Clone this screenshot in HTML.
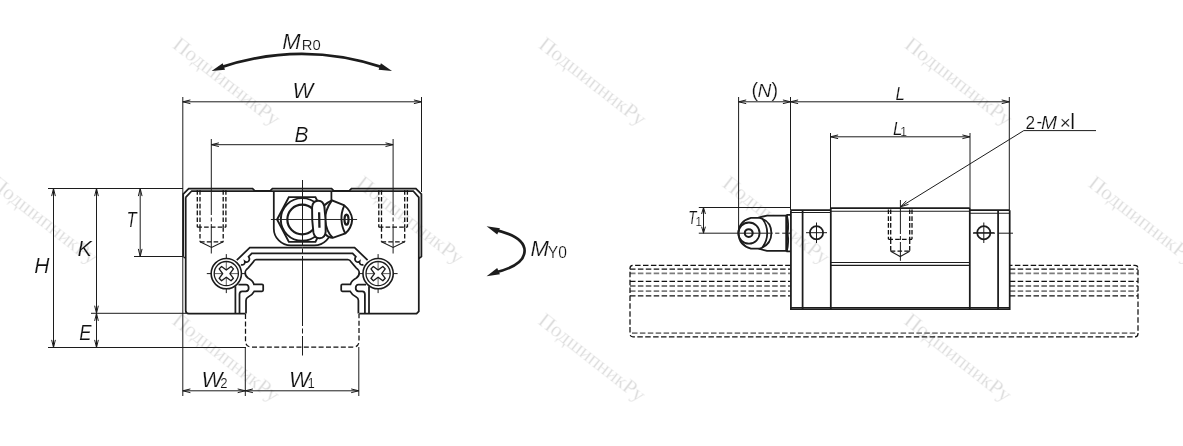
<!DOCTYPE html>
<html lang="ru">
<head>
<meta charset="utf-8">
<title>Linear guide block dimensions</title>
<style>
html,body{margin:0;padding:0;background:#fff;}
body{width:1183px;height:446px;overflow:hidden;}
svg{display:block;filter:grayscale(1);}
.wm text{font-family:"Liberation Serif","DejaVu Serif",serif;font-size:21px;fill:#dadada;stroke:#fff;stroke-width:0.3px;}
.lbl text{font-family:"Liberation Sans","DejaVu Sans",sans-serif;stroke:#fff;stroke-width:0.2px;}
</style>
</head>
<body>
<svg width="1183" height="446" viewBox="0 0 1183 446">
<rect x="0" y="0" width="1183" height="446" fill="#fff"/>
<g class="wm">
<text transform="translate(180.2,36.0) rotate(38)" x="0" y="14">ПодшипникРу</text>
<text transform="translate(546.2,36.0) rotate(38)" x="0" y="14">ПодшипникРу</text>
<text transform="translate(912.2,36.0) rotate(38)" x="0" y="14">ПодшипникРу</text>
<text transform="translate(-2.2,174.7) rotate(38)" x="0" y="14">ПодшипникРу</text>
<text transform="translate(363.8,174.7) rotate(38)" x="0" y="14">ПодшипникРу</text>
<text transform="translate(729.8,174.7) rotate(38)" x="0" y="14">ПодшипникРу</text>
<text transform="translate(1095.8,174.7) rotate(38)" x="0" y="14">ПодшипникРу</text>
<text transform="translate(179.6,312.0) rotate(38)" x="0" y="14">ПодшипникРу</text>
<text transform="translate(545.6,312.0) rotate(38)" x="0" y="14">ПодшипникРу</text>
<text transform="translate(911.6,312.0) rotate(38)" x="0" y="14">ПодшипникРу</text>
</g>
<g stroke="#1c1c1c" fill="none" stroke-linecap="butt" stroke-linejoin="miter">
<line x1="48.00" y1="188.50" x2="183.00" y2="188.50" stroke-width="1.0" />
<line x1="53.50" y1="188.50" x2="53.50" y2="347.50" stroke-width="1.0" />
<path d="M51.65 196.10L53.50 188.50L55.35 196.10" fill="none" stroke-width="1.0"/>
<path d="M55.35 339.90L53.50 347.50L51.65 339.90" fill="none" stroke-width="1.0"/>
<line x1="96.50" y1="188.50" x2="96.50" y2="313.30" stroke-width="1.0" />
<path d="M94.65 196.10L96.50 188.50L98.35 196.10" fill="none" stroke-width="1.0"/>
<path d="M98.35 305.70L96.50 313.30L94.65 305.70" fill="none" stroke-width="1.0"/>
<line x1="96.50" y1="313.30" x2="96.50" y2="347.50" stroke-width="1.0" />
<path d="M94.65 320.90L96.50 313.30L98.35 320.90" fill="none" stroke-width="1.0"/>
<path d="M98.35 339.90L96.50 347.50L94.65 339.90" fill="none" stroke-width="1.0"/>
<line x1="140.20" y1="188.50" x2="140.20" y2="256.50" stroke-width="1.0" />
<path d="M138.35 196.10L140.20 188.50L142.05 196.10" fill="none" stroke-width="1.0"/>
<path d="M142.05 248.90L140.20 256.50L138.35 248.90" fill="none" stroke-width="1.0"/>
<line x1="134.00" y1="256.50" x2="183.00" y2="256.50" stroke-width="1.0" />
<line x1="91.00" y1="313.30" x2="186.00" y2="313.30" stroke-width="1.0" />
<line x1="48.00" y1="347.50" x2="246.00" y2="347.50" stroke-width="1.0" />
<line x1="182.80" y1="97.00" x2="182.80" y2="396.00" stroke-width="1.0" />
<line x1="421.50" y1="97.00" x2="421.50" y2="192.00" stroke-width="1.0" />
<line x1="182.80" y1="101.80" x2="421.50" y2="101.80" stroke-width="1.0" />
<path d="M190.40 103.65L182.80 101.80L190.40 99.95" fill="none" stroke-width="1.0"/>
<path d="M413.90 99.95L421.50 101.80L413.90 103.65" fill="none" stroke-width="1.0"/>
<line x1="211.30" y1="144.70" x2="393.10" y2="144.70" stroke-width="1.0" />
<path d="M218.90 146.55L211.30 144.70L218.90 142.85" fill="none" stroke-width="1.0"/>
<path d="M385.50 142.85L393.10 144.70L385.50 146.55" fill="none" stroke-width="1.0"/>
<line x1="182.80" y1="390.80" x2="245.30" y2="390.80" stroke-width="1.0" />
<path d="M190.40 392.65L182.80 390.80L190.40 388.95" fill="none" stroke-width="1.0"/>
<path d="M237.70 388.95L245.30 390.80L237.70 392.65" fill="none" stroke-width="1.0"/>
<line x1="245.30" y1="390.80" x2="358.80" y2="390.80" stroke-width="1.0" />
<path d="M252.90 392.65L245.30 390.80L252.90 388.95" fill="none" stroke-width="1.0"/>
<path d="M351.20 388.95L358.80 390.80L351.20 392.65" fill="none" stroke-width="1.0"/>
<line x1="245.30" y1="347.00" x2="245.30" y2="396.00" stroke-width="1.0" />
<line x1="358.80" y1="347.00" x2="358.80" y2="396.00" stroke-width="1.0" />
<line x1="211.30" y1="139.00" x2="211.30" y2="253.50" stroke-width="1.0" stroke-dasharray="76 2.5 4 2.5 40"/>
<line x1="393.10" y1="139.00" x2="393.10" y2="253.50" stroke-width="1.0" stroke-dasharray="76 2.5 4 2.5 40"/>
<line x1="302.50" y1="180.00" x2="302.50" y2="355.50" stroke-width="1.0" stroke-dasharray="66 2.5 5 2.5 70 2.5 5 2.5 30"/>
<path d="M245.5 314V341Q245.5 347 251.5 347H353Q359 347 359 341V314" stroke-width="1.25" fill="none" stroke="#111" stroke-dasharray="5 2.4"/>
<path d="M183.2 256.5V194.2L188.7 188.7H252.6L254.8 190.9H270.2L272.4 188.7H331.6L333.8 190.9H349.2L351.4 188.7H415.9L421.4 194.2V256.5L418.8 258.5" stroke-width="1.75" fill="none"/>
<path d="M185.7 197.3L191.7 191H413.2L418.8 197.3V311.3L416.6 313.6H359.2M185.7 197.3V310.5Q185.7 313.6 188.8 313.6H245.6" stroke-width="1.75" fill="none"/>
<path d="M183.2 256.5L185.7 258.5" stroke-width="1.2" fill="none"/>
<path d="M273.8 191V228.4A17 17 0 0 0 290.8 245.4H314.4A17 17 0 0 0 331.4 228.4V191" stroke-width="1.75" fill="none"/>
<path d="M302.20 247.7H249.80L236.80 260.1M302.20 253.4H251.80L248.60 256.7Q250.40 259.4 248.40 261.4Q246.40 262.8 244.80 261.5Q245.20 263.6 243.60 264.5Q242.20 265.2 241.00 264.4M302.20 259.5H256.60Q254.20 259.7 253.00 262.4L248.30 267.9Q245.20 270.0 245.20 273.0Q245.20 276.0 248.00 278.0Q252.80 280.4 253.90 284.3H262.00Q263.20 284.3 263.20 285.5V290.1Q263.20 291.3 262.00 291.3H254.20Q252.00 295.4 248.20 297.0Q246.00 298.0 246.00 300.6V313.6M235.40 286.2V313.6M238.40 284.5H245.80Q248.70 284.7 248.70 287.9Q248.70 291.1 245.80 291.3H242.20Q239.50 291.5 239.50 294.2V313.6" stroke-width="1.75" fill="none"/>
<path d="M302.20 247.7H354.60L367.60 260.1M302.20 253.4H352.60L355.80 256.7Q354.00 259.4 356.00 261.4Q358.00 262.8 359.60 261.5Q359.20 263.6 360.80 264.5Q362.20 265.2 363.40 264.4M302.20 259.5H347.80Q350.20 259.7 351.40 262.4L356.10 267.9Q359.20 270.0 359.20 273.0Q359.20 276.0 356.40 278.0Q351.60 280.4 350.50 284.3H342.40Q341.20 284.3 341.20 285.5V290.1Q341.20 291.3 342.40 291.3H350.20Q352.40 295.4 356.20 297.0Q358.40 298.0 358.40 300.6V313.6M369.00 286.2V313.6M366.00 284.5H358.60Q355.70 284.7 355.70 287.9Q355.70 291.1 358.60 291.3H362.20Q364.90 291.5 364.90 294.2V313.6" stroke-width="1.75" fill="none"/>
<line x1="206.80" y1="273.60" x2="245.80" y2="273.60" stroke-width="1.0" />
<line x1="226.30" y1="254.10" x2="226.30" y2="293.10" stroke-width="1.0" />
<circle cx="226.3" cy="273.6" r="15.15" stroke-width="1.6" fill="#fff"/>
<circle cx="226.3" cy="273.6" r="12.1" stroke-width="1.3"/>
<line x1="214.30" y1="273.60" x2="238.30" y2="273.60" stroke-width="0.7" />
<line x1="226.30" y1="261.60" x2="226.30" y2="285.60" stroke-width="0.7" />
<path d="M224.60 265.20L228.00 265.20L228.86 271.04L234.70 271.90L234.70 275.30L228.86 276.16L228.00 282.00L224.60 282.00L223.74 276.16L217.90 275.30L217.90 271.90L223.74 271.04Z" transform="rotate(45 226.3 273.6)" stroke-width="1.35" fill="#fff" stroke-linejoin="round"/>
<line x1="358.60" y1="273.60" x2="397.60" y2="273.60" stroke-width="1.0" />
<line x1="378.10" y1="254.10" x2="378.10" y2="293.10" stroke-width="1.0" />
<circle cx="378.09999999999997" cy="273.6" r="15.15" stroke-width="1.6" fill="#fff"/>
<circle cx="378.09999999999997" cy="273.6" r="12.1" stroke-width="1.3"/>
<line x1="366.10" y1="273.60" x2="390.10" y2="273.60" stroke-width="0.7" />
<line x1="378.10" y1="261.60" x2="378.10" y2="285.60" stroke-width="0.7" />
<path d="M376.40 265.20L379.80 265.20L380.66 271.04L386.50 271.90L386.50 275.30L380.66 276.16L379.80 282.00L376.40 282.00L375.54 276.16L369.70 275.30L369.70 271.90L375.54 271.04Z" transform="rotate(45 378.09999999999997 273.6)" stroke-width="1.35" fill="#fff" stroke-linejoin="round"/>
<line x1="197.30" y1="190.20" x2="197.30" y2="227.20" stroke-width="1.3" stroke-dasharray="4.6 2.2" stroke="#111"/>
<line x1="225.90" y1="190.20" x2="225.90" y2="227.20" stroke-width="1.3" stroke-dasharray="4.6 2.2" stroke="#111"/>
<line x1="200.00" y1="190.20" x2="200.00" y2="227.20" stroke-width="1.3" stroke-dasharray="4.6 2.2" stroke="#111"/>
<line x1="223.20" y1="190.20" x2="223.20" y2="227.20" stroke-width="1.3" stroke-dasharray="4.6 2.2" stroke="#111"/>
<line x1="197.30" y1="227.20" x2="225.90" y2="227.20" stroke-width="1.3" stroke-dasharray="4.6 2.2" stroke="#111"/>
<line x1="200.00" y1="227.20" x2="200.00" y2="241.80" stroke-width="1.3" stroke-dasharray="4.6 2.2" stroke="#111"/>
<line x1="223.20" y1="227.20" x2="223.20" y2="241.80" stroke-width="1.3" stroke-dasharray="4.6 2.2" stroke="#111"/>
<line x1="200.00" y1="241.80" x2="223.20" y2="241.80" stroke-width="1.3" stroke-dasharray="4.6 2.2" stroke="#111"/>
<path d="M200.00 241.8L211.6 247.4L223.20 241.8" stroke-width="1.1" fill="none"/>
<line x1="378.80" y1="190.20" x2="378.80" y2="227.20" stroke-width="1.3" stroke-dasharray="4.6 2.2" stroke="#111"/>
<line x1="407.40" y1="190.20" x2="407.40" y2="227.20" stroke-width="1.3" stroke-dasharray="4.6 2.2" stroke="#111"/>
<line x1="381.50" y1="190.20" x2="381.50" y2="227.20" stroke-width="1.3" stroke-dasharray="4.6 2.2" stroke="#111"/>
<line x1="404.70" y1="190.20" x2="404.70" y2="227.20" stroke-width="1.3" stroke-dasharray="4.6 2.2" stroke="#111"/>
<line x1="378.80" y1="227.20" x2="407.40" y2="227.20" stroke-width="1.3" stroke-dasharray="4.6 2.2" stroke="#111"/>
<line x1="381.50" y1="227.20" x2="381.50" y2="241.80" stroke-width="1.3" stroke-dasharray="4.6 2.2" stroke="#111"/>
<line x1="404.70" y1="227.20" x2="404.70" y2="241.80" stroke-width="1.3" stroke-dasharray="4.6 2.2" stroke="#111"/>
<line x1="381.50" y1="241.80" x2="404.70" y2="241.80" stroke-width="1.3" stroke-dasharray="4.6 2.2" stroke="#111"/>
<path d="M381.50 241.8L393.09999999999997 247.4L404.70 241.8" stroke-width="1.1" fill="none"/>
<g transform="translate(265,180) scale(0.16807)">
<path d="M72 235L142 102H300L368 235L300 368H142Z" stroke-width="11.5" fill="none"/>
<circle cx="221" cy="235" r="127" stroke-width="11.5"/>
<circle cx="221" cy="235" r="88" stroke-width="13.0"/>
<path d="M352 152Q372 132 398 121L472 151Q514 186 519 234Q516 284 478 318L403 344Q378 344 358 322Q352 240 352 152Z" stroke-width="11.5" fill="#fff"/>
<path d="M398 121Q356 180 358 238Q364 306 403 344" stroke-width="11.5"/>
<path d="M472 151Q452 195 455 238Q458 284 478 318" stroke-width="11.5"/>
<ellipse cx="485" cy="236" rx="12" ry="30" stroke-width="13.0"/>
<path transform="rotate(-3 320 235)" d="M320.5 123Q352 123 357 160Q363 235 357 310Q352 347 320.5 347Q289 347 284 310Q278 235 284 160Q289 123 320.5 123Z" stroke-width="11.5" fill="#fff"/>
<line x1="322" y1="192" x2="324" y2="284" stroke-width="13.5"/>
<line x1="35" y1="235" x2="548" y2="235" stroke-width="5.6"/>
</g>
<path d="M219 67.9Q301.8 39.8 384.6 67.9" stroke-width="2.7" fill="none"/>
<path d="M211.60 70.90L225.02 69.86L222.69 63.26Z" fill="#1c1c1c" stroke="none"/>
<path d="M392.00 70.90L380.91 63.26L378.58 69.86Z" fill="#1c1c1c" stroke="none"/>
<path d="M494 229.6Q524.6 236.4 524.6 250.8Q524.6 265.6 494 272.8" stroke-width="2.7" fill="none"/>
<path d="M486.60 226.30L497.20 234.60L499.93 228.16Z" fill="#1c1c1c" stroke="none"/>
<path d="M486.60 276.20L499.93 274.34L497.20 267.90Z" fill="#1c1c1c" stroke="none"/>
<line x1="630.00" y1="269.20" x2="790.70" y2="269.20" stroke-width="1.25" stroke-dasharray="5.5 2.4" stroke="#111"/>
<line x1="1009.80" y1="269.20" x2="1138.00" y2="269.20" stroke-width="1.25" stroke-dasharray="5.5 2.4" stroke="#111"/>
<line x1="630.00" y1="273.30" x2="790.70" y2="273.30" stroke-width="1.8" stroke-dasharray="5.5 2.4" stroke="#7c7c7c"/>
<line x1="1009.80" y1="273.30" x2="1138.00" y2="273.30" stroke-width="1.8" stroke-dasharray="5.5 2.4" stroke="#7c7c7c"/>
<line x1="630.00" y1="281.30" x2="790.70" y2="281.30" stroke-width="1.25" stroke-dasharray="5.5 2.4" stroke="#111"/>
<line x1="1009.80" y1="281.30" x2="1138.00" y2="281.30" stroke-width="1.25" stroke-dasharray="5.5 2.4" stroke="#111"/>
<line x1="630.00" y1="286.00" x2="790.70" y2="286.00" stroke-width="1.8" stroke-dasharray="5.5 2.4" stroke="#7c7c7c"/>
<line x1="1009.80" y1="286.00" x2="1138.00" y2="286.00" stroke-width="1.8" stroke-dasharray="5.5 2.4" stroke="#7c7c7c"/>
<line x1="630.00" y1="291.20" x2="790.70" y2="291.20" stroke-width="1.8" stroke-dasharray="5.5 2.4" stroke="#7c7c7c"/>
<line x1="1009.80" y1="291.20" x2="1138.00" y2="291.20" stroke-width="1.8" stroke-dasharray="5.5 2.4" stroke="#7c7c7c"/>
<line x1="630.00" y1="295.90" x2="790.70" y2="295.90" stroke-width="1.25" stroke-dasharray="5.5 2.4" stroke="#111"/>
<line x1="1009.80" y1="295.90" x2="1138.00" y2="295.90" stroke-width="1.25" stroke-dasharray="5.5 2.4" stroke="#111"/>
<path d="M790.7 265.3H633Q630 265.3 630 268.3V333.8Q630 336.8 633 336.8H1135Q1138 336.8 1138 333.8V268.3Q1138 265.3 1135 265.3H1009.8" stroke-width="1.25" fill="none" stroke="#111" stroke-dasharray="5.5 2.4"/>
<line x1="632.00" y1="333.10" x2="1136.00" y2="333.10" stroke-width="1.8" stroke-dasharray="5.5 2.4" stroke="#7c7c7c"/>
<line x1="738.60" y1="97.00" x2="738.60" y2="233.00" stroke-width="1.0" />
<line x1="790.50" y1="97.00" x2="790.50" y2="210.00" stroke-width="1.0" />
<line x1="1009.30" y1="97.00" x2="1009.30" y2="210.00" stroke-width="1.0" />
<line x1="738.60" y1="101.80" x2="790.50" y2="101.80" stroke-width="1.0" />
<path d="M746.20 103.65L738.60 101.80L746.20 99.95" fill="none" stroke-width="1.0"/>
<path d="M782.90 99.95L790.50 101.80L782.90 103.65" fill="none" stroke-width="1.0"/>
<line x1="790.50" y1="101.80" x2="1009.30" y2="101.80" stroke-width="1.0" />
<path d="M798.10 103.65L790.50 101.80L798.10 99.95" fill="none" stroke-width="1.0"/>
<path d="M1001.70 99.95L1009.30 101.80L1001.70 103.65" fill="none" stroke-width="1.0"/>
<line x1="830.50" y1="133.00" x2="830.50" y2="208.00" stroke-width="1.0" />
<line x1="970.00" y1="133.00" x2="970.00" y2="208.00" stroke-width="1.0" />
<line x1="830.50" y1="136.80" x2="970.00" y2="136.80" stroke-width="1.0" />
<path d="M838.10 138.65L830.50 136.80L838.10 134.95" fill="none" stroke-width="1.0"/>
<path d="M962.40 134.95L970.00 136.80L962.40 138.65" fill="none" stroke-width="1.0"/>
<path d="M1096 130.6H1023.8L900.6 206.8" stroke-width="1.0" fill="none"/>
<path d="M908.51 204.37L900.60 206.80L906.29 200.80" fill="none" stroke-width="1.0"/>
<line x1="698.80" y1="207.50" x2="790.00" y2="207.50" stroke-width="1.0" />
<line x1="703.50" y1="207.50" x2="703.50" y2="233.20" stroke-width="1.0" />
<path d="M701.60 214.00L703.50 207.50L705.40 214.00" fill="none" stroke-width="1.0"/>
<path d="M705.40 226.70L703.50 233.20L701.60 226.70" fill="none" stroke-width="1.0"/>
<line x1="973.00" y1="233.20" x2="1013.00" y2="233.20" stroke-width="1.0" stroke-dasharray="22 3 30"/>
<path d="M790.9 210.2V309.2H1009.7V210.2M790.9 210.2H830.8M969.8 210.2H1009.7M830.8 208.1H969.8" stroke-width="1.75" fill="none"/>
<path d="M790.9 212.5H830.8M969.8 213.3H1009.7M830.8 211.2H969.8" stroke-width="1.1" fill="none"/>
<path d="M790.9 307.6H1009.7" stroke-width="1.2" fill="none"/>
<path d="M802.6 210.2V309.2M830.8 208.1V309.2M969.8 208.1V309.2M998.1 210.2V309.2" stroke-width="1.75" fill="none"/>
<path d="M830.8 262.5H969.8M830.8 265.4H969.8" stroke-width="1.2" fill="none"/>
<circle cx="816.5" cy="232.7" r="6.6" stroke-width="1.75"/>
<line x1="816.50" y1="222.50" x2="816.50" y2="243.00" stroke-width="1.0" />
<line x1="806.00" y1="232.70" x2="827.00" y2="232.70" stroke-width="1.0" />
<circle cx="983.8" cy="232.7" r="6.6" stroke-width="1.75"/>
<line x1="983.80" y1="222.50" x2="983.80" y2="243.00" stroke-width="1.0" />
<line x1="973.30" y1="232.70" x2="994.30" y2="232.70" stroke-width="1.0" />
<line x1="888.40" y1="209.50" x2="888.40" y2="239.30" stroke-width="1.3" stroke-dasharray="4.6 2.2" stroke="#111"/>
<line x1="912.00" y1="209.50" x2="912.00" y2="239.30" stroke-width="1.3" stroke-dasharray="4.6 2.2" stroke="#111"/>
<line x1="890.70" y1="209.50" x2="890.70" y2="239.30" stroke-width="1.3" stroke-dasharray="4.6 2.2" stroke="#111"/>
<line x1="909.70" y1="209.50" x2="909.70" y2="239.30" stroke-width="1.3" stroke-dasharray="4.6 2.2" stroke="#111"/>
<line x1="888.40" y1="239.30" x2="912.00" y2="239.30" stroke-width="1.3" stroke-dasharray="4.6 2.2" stroke="#111"/>
<line x1="890.70" y1="239.30" x2="890.70" y2="251.20" stroke-width="1.3" stroke-dasharray="4.6 2.2" stroke="#111"/>
<line x1="909.70" y1="239.30" x2="909.70" y2="251.20" stroke-width="1.3" stroke-dasharray="4.6 2.2" stroke="#111"/>
<line x1="890.70" y1="251.20" x2="909.70" y2="251.20" stroke-width="1.3" stroke-dasharray="4.6 2.2" stroke="#111"/>
<path d="M890.70 251.2L900.2 256.6L909.70 251.2" stroke-width="1.1" fill="none"/>
<line x1="900.40" y1="200.00" x2="900.40" y2="260.80" stroke-width="1.0" stroke-dasharray="34 2 4 2 30"/>
<g transform="translate(730,205) scale(0.12324)">
<path d="M238 100L300 86H458V372H300L238 356Z" stroke-width="14.5" fill="#fff"/>
<path d="M458 80V228V376" stroke-width="14.5"/>
<path d="M458 80H494M458 376H494" stroke-width="14.5"/>
<path d="M461 82Q479 155 467 228Q479 301 461 374" stroke-width="14.5"/>
<path d="M68 228Q72 130 170 104H240Q335 130 336 228Q335 326 240 354H170Q72 326 68 228Z" stroke-width="14.5" fill="#fff"/>
<path d="M262 112Q302 160 302 228Q302 296 262 344" stroke-width="14.5"/>
<circle cx="154" cy="228" r="86" stroke-width="14.5" />
<circle cx="152" cy="228" r="32" stroke-width="16.5"/>
</g>
<line x1="698.80" y1="233.20" x2="772.60" y2="233.20" stroke-width="1.0" />
<line x1="775.20" y1="233.20" x2="779.40" y2="233.20" stroke-width="1.0" />
<line x1="782.20" y1="233.20" x2="791.00" y2="233.20" stroke-width="1.0" />
</g>
<g fill="#111" class="lbl" opacity="0.999">
<text x="282.3" y="49.2" font-size="22" font-style="italic" text-anchor="start" >M</text>
<text x="301.8" y="50.2" font-size="14.8" font-style="normal" text-anchor="start" >R0</text>
<text x="292.6" y="98.4" font-size="22" font-style="italic" text-anchor="start" >W</text>
<text transform="translate(294.6,142.4) scale(0.95,1)" x="0" y="0" font-size="22" font-style="italic" text-anchor="start" >B</text>
<text transform="translate(126.6,227.0) scale(0.74,1)" x="0" y="0" font-size="22.4" font-style="italic" text-anchor="start" >T</text>
<text transform="translate(77.6,255.9) scale(0.96,1)" x="0" y="0" font-size="22.4" font-style="italic" text-anchor="start" >K</text>
<text transform="translate(34.2,272.7) scale(0.94,1)" x="0" y="0" font-size="22.4" font-style="italic" text-anchor="start" >H</text>
<text transform="translate(79.2,340.3) scale(0.82,1)" x="0" y="0" font-size="22.4" font-style="italic" text-anchor="start" >E</text>
<text x="201.4" y="386.8" font-size="22.2" font-style="italic" text-anchor="start" >W</text>
<text transform="translate(220.2,388.2) scale(0.9,1)" x="0" y="0" font-size="14.6" font-style="normal" text-anchor="start" >2</text>
<text x="289.0" y="386.8" font-size="22.2" font-style="italic" text-anchor="start" >W</text>
<text transform="translate(307.4,388.2) scale(0.9,1)" x="0" y="0" font-size="14.6" font-style="normal" text-anchor="start" >1</text>
<text x="530.4" y="255.8" font-size="22" font-style="italic" text-anchor="start" >M</text>
<text x="547.8" y="257.8" font-size="15.6" font-style="normal" text-anchor="start" >Y0</text>
<text x="751.6" y="97.2" font-size="19.8" font-style="normal" text-anchor="start" >(</text>
<text x="757.4" y="96.8" font-size="19.2" font-style="italic" text-anchor="start" >N</text>
<text x="771.4" y="97.2" font-size="19.8" font-style="normal" text-anchor="start" >)</text>
<text transform="translate(895.6,99.6) scale(0.9,1)" x="0" y="0" font-size="18.6" font-style="italic" text-anchor="start" >L</text>
<text transform="translate(893.0,134.7) scale(0.9,1)" x="0" y="0" font-size="18.8" font-style="italic" text-anchor="start" >L</text>
<text transform="translate(900.2,135.6) scale(0.9,1)" x="0" y="0" font-size="13.4" font-style="normal" text-anchor="start" >1</text>
<text transform="translate(688.2,224.3) scale(0.72,1)" x="0" y="0" font-size="18.8" font-style="italic" text-anchor="start" >T</text>
<text transform="translate(695.6,225.7) scale(0.85,1)" x="0" y="0" font-size="13.4" font-style="normal" text-anchor="start" >1</text>
<text transform="translate(1025.6,128.8) scale(0.9,1)" x="0" y="0" font-size="19.2" font-style="normal" text-anchor="start" >2</text>
<text x="1036.4" y="126.6" font-size="17" font-style="normal" text-anchor="start" >-</text>
<text x="1041.0" y="128.8" font-size="19.2" font-style="italic" text-anchor="start" >M</text>
<text x="1059.8" y="128.8" font-size="19" font-style="normal" text-anchor="start" >×</text>
<text x="1070.2" y="128.8" font-size="21.6" font-style="normal" text-anchor="start" >l</text>
</g>
</svg>
</body>
</html>
